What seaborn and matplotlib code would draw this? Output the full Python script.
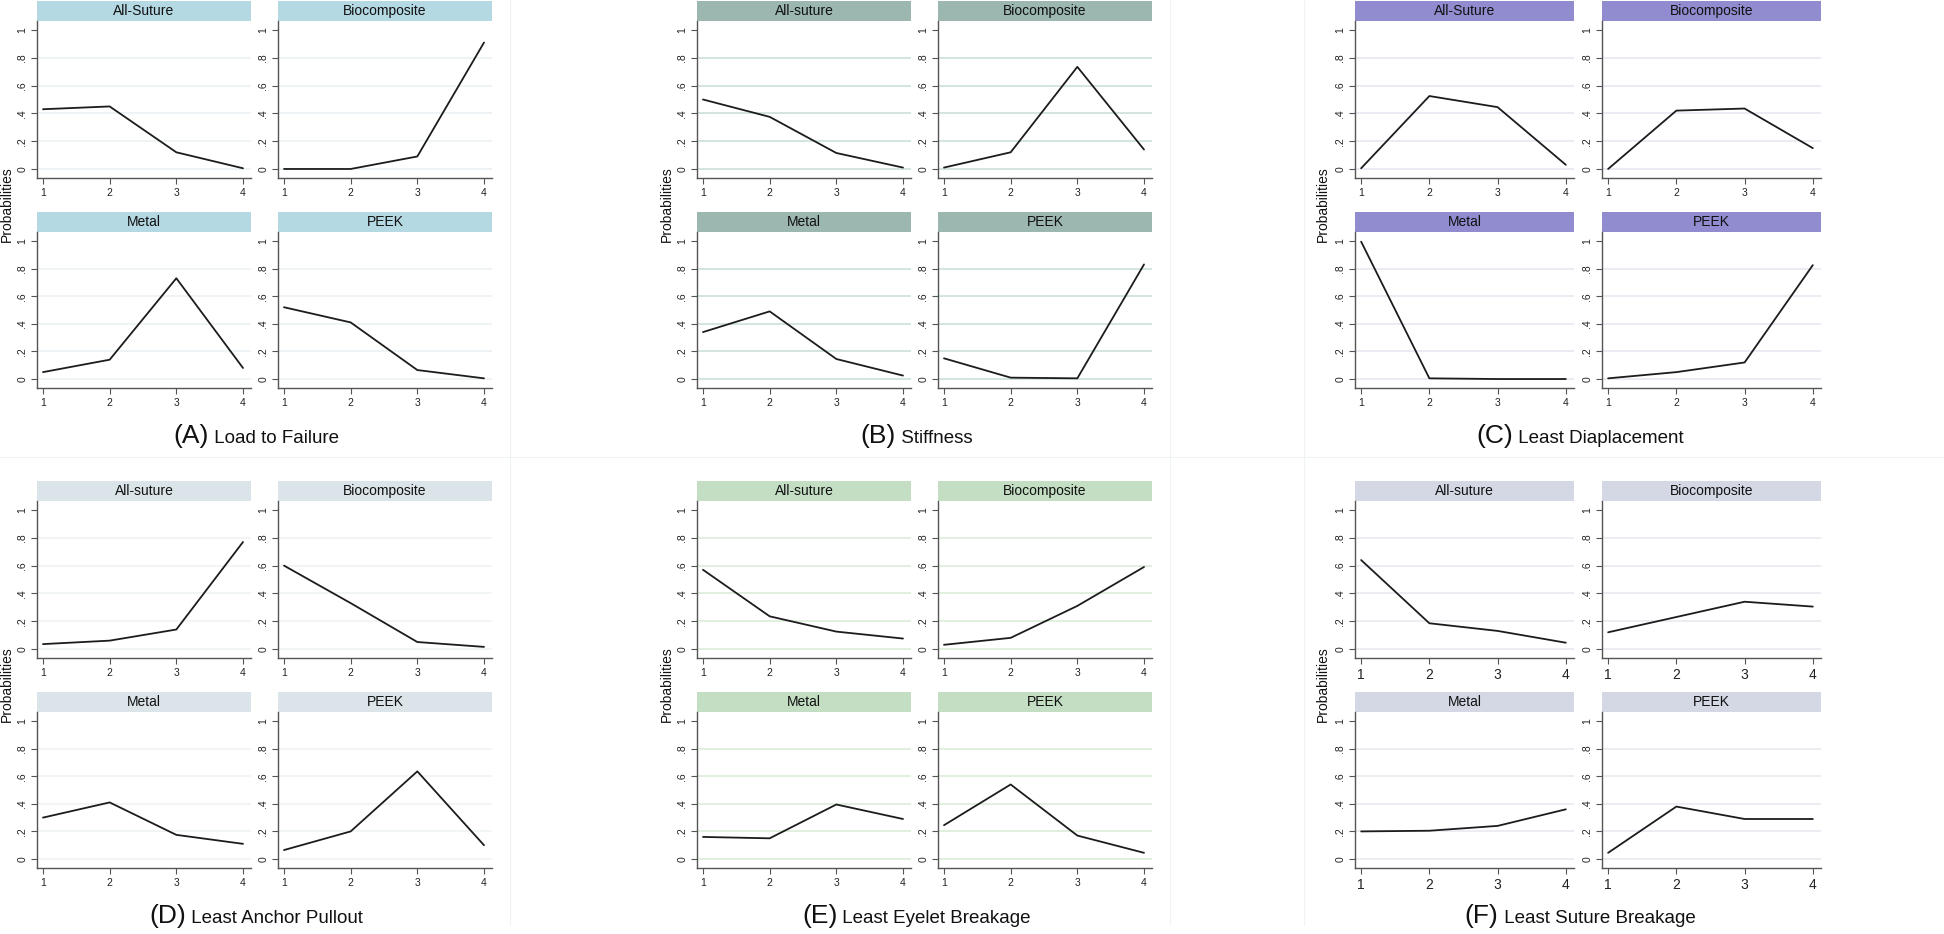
import numpy as np
import pandas as pd
import matplotlib
matplotlib.use("Agg")
import matplotlib.pyplot as plt
import seaborn as sns
from matplotlib.patches import Rectangle
from matplotlib.lines import Line2D

sns.set_style("white")
plt.rcParams["font.family"] = ["Liberation Sans", "DejaVu Sans"]

W, H = 1944, 934

ranks = [1, 2, 3, 4]

# (A) Load to Failure
load_allsuture = [0.43, 0.45, 0.12, 0.005]
load_biocomp = [0.0, 0.0, 0.09, 0.91]
load_metal = [0.05, 0.14, 0.73, 0.08]
load_peek = [0.52, 0.41, 0.065, 0.005]

# (B) Stiffness
stiff_allsuture = [0.50, 0.375, 0.115, 0.01]
stiff_biocomp = [0.01, 0.12, 0.735, 0.14]
stiff_metal = [0.34, 0.49, 0.145, 0.025]
stiff_peek = [0.15, 0.01, 0.005, 0.83]

# (C) Least Diaplacement
disp_allsuture = [0.005, 0.525, 0.445, 0.03]
disp_biocomp = [0.0, 0.42, 0.435, 0.15]
disp_metal = [0.995, 0.005, 0.0, 0.0]
disp_peek = [0.005, 0.05, 0.12, 0.825]

# (D) Least Anchor Pullout
pull_allsuture = [0.035, 0.06, 0.14, 0.77]
pull_biocomp = [0.60, 0.33, 0.05, 0.015]
pull_metal = [0.30, 0.41, 0.175, 0.11]
pull_peek = [0.065, 0.20, 0.635, 0.10]

# (E) Least Eyelet Breakage
eyelet_allsuture = [0.57, 0.235, 0.125, 0.075]
eyelet_biocomp = [0.03, 0.08, 0.31, 0.59]
eyelet_metal = [0.16, 0.15, 0.395, 0.29]
eyelet_peek = [0.245, 0.54, 0.17, 0.045]

# (F) Least Suture Breakage
suture_allsuture = [0.64, 0.185, 0.13, 0.045]
suture_biocomp = [0.12, 0.23, 0.34, 0.305]
suture_metal = [0.20, 0.205, 0.24, 0.36]
suture_peek = [0.045, 0.38, 0.29, 0.29]

panels = [
    ("(A)", "Load to Failure", ["All-Suture", "Biocomposite", "Metal", "PEEK"],
     [load_allsuture, load_biocomp, load_metal, load_peek], "#b5d9e3", "#eaf0f3"),
    ("(B)", "Stiffness", ["All-suture", "Biocomposite", "Metal", "PEEK"],
     [stiff_allsuture, stiff_biocomp, stiff_metal, stiff_peek], "#9bb7b0", "#c8dcd6"),
    ("(C)", "Least Diaplacement", ["All-Suture", "Biocomposite", "Metal", "PEEK"],
     [disp_allsuture, disp_biocomp, disp_metal, disp_peek], "#918ccf", "#e6e6f1"),
    ("(D)", "Least Anchor Pullout", ["All-suture", "Biocomposite", "Metal", "PEEK"],
     [pull_allsuture, pull_biocomp, pull_metal, pull_peek], "#dbe5e9", "#eef3f4"),
    ("(E)", "Least Eyelet Breakage", ["All-suture", "Biocomposite", "Metal", "PEEK"],
     [eyelet_allsuture, eyelet_biocomp, eyelet_metal, eyelet_peek], "#c4dec4", "#d8ebd5"),
    ("(F)", "Least Suture Breakage", ["All-suture", "Biocomposite", "Metal", "PEEK"],
     [suture_allsuture, suture_biocomp, suture_metal, suture_peek], "#d4d8e5", "#e6e8f0"),
]

rows = []
for letter, name, mats, series, _, _ in panels:
    for m, vals in zip(mats, series):
        for r, v in zip(ranks, vals):
            rows.append({"panel": letter, "material": m, "rank": r, "prob": v})
df = pd.DataFrame(rows)

# layout in pixels: (left of first axes, axes width, offset of 2nd column), row tops
col_layout = [(37, 214, 241), (697, 214, 241), (1355, 219, 247)]
row_layout = [[(21, 178), (232, 388)], [(501, 658), (712, 868)]]
title_y = [443, 923]
ylabel_x = [7, 667, 1323]


def rect(x0, y0, x1, y1):
    return [x0 / W, 1 - y1 / H, (x1 - x0) / W, (y1 - y0) / H]


fig = plt.figure(figsize=(W / 100, H / 100), dpi=100, facecolor="white")

# faint separators between the composed images
for x in [510, 1170, 1304]:
    fig.add_artist(Line2D([x / W, x / W], [0.01, 1], color="#eef3f6", lw=0.8))
fig.add_artist(Line2D([0, 1], [1 - 457 / H, 1 - 457 / H], color="#eef3f6", lw=0.8))

title_pairs = []
for i, (letter, name, mats, series, strip_col, grid_col) in enumerate(panels):
    gr, gc = divmod(i, 3)
    left, width, step = col_layout[gc]
    xtick_size = 10 if letter == "(F)" else 7.5
    for j, m in enumerate(mats):
        r, c = divmod(j, 2)
        y0, y1 = row_layout[gr][r]
        x0 = left + c * step
        ax = fig.add_axes(rect(x0, y0, x0 + width, y1))
        sub = df[(df["panel"] == letter) & (df["material"] == m)]
        for g in [0, 0.2, 0.4, 0.6, 0.8]:
            ax.axhline(g, color=grid_col, lw=1.1, zorder=0)
        sns.lineplot(data=sub, x="rank", y="prob", ax=ax, color="#1c1c1c",
                     linewidth=1.3, errorbar=None)
        ax.set_xlim(0.91, 4.12)
        ax.set_ylim(-0.065, 1.065)
        ax.set_xticks(ranks)
        ax.set_xticklabels([str(v) for v in ranks], fontsize=xtick_size, color="#222222")
        ax.set_yticks([0, 0.2, 0.4, 0.6, 0.8, 1])
        ax.set_yticklabels(["0", ".2", ".4", ".6", ".8", "1"], fontsize=7.5,
                           color="#222222", rotation=90, va="center")
        ax.tick_params(axis="both", direction="out", length=4, width=0.8,
                       color="#555555", pad=3, left=True, bottom=True)
        ax.set_xlabel("")
        ax.set_ylabel("")
        for s in ["top", "right"]:
            ax.spines[s].set_visible(False)
        for s in ["left", "bottom"]:
            ax.spines[s].set_color("#555555")
            ax.spines[s].set_linewidth(1.0)
        strip_h = 20 / (y1 - y0)
        ax.add_patch(Rectangle((0, 1), 1, strip_h, transform=ax.transAxes,
                               facecolor=strip_col, edgecolor="none", clip_on=False))
        ax.text(0.5, 1 + strip_h / 2, m, transform=ax.transAxes, ha="center",
                va="center", fontsize=10, color="#111111")
    # y label
    yc = (row_layout[gr][0][0] + row_layout[gr][1][1]) / 2
    fig.text(ylabel_x[gc] / W, 1 - yc / H, "Probabilities", rotation=90,
             ha="center", va="center", fontsize=10, color="#111111")
    # panel title: large letter, smaller name
    cx = left + (step + width) / 2 - 8
    t1 = fig.text(cx / W, 1 - title_y[gr] / H, letter, fontsize=19,
                  ha="left", va="baseline", color="#111111")
    t2 = fig.text(cx / W, 1 - title_y[gr] / H, " " + name, fontsize=13.5,
                  ha="left", va="baseline", color="#111111")
    title_pairs.append((cx, t1, t2))

fig.canvas.draw()
renderer = fig.canvas.get_renderer()
for cx, t1, t2 in title_pairs:
    w1 = t1.get_window_extent(renderer).width
    w2 = t2.get_window_extent(renderer).width
    start = cx - (w1 + w2) / 2
    t1.set_x(start / W)
    t2.set_x((start + w1) / W)

fig.savefig("out.png", dpi=100, facecolor="white")
